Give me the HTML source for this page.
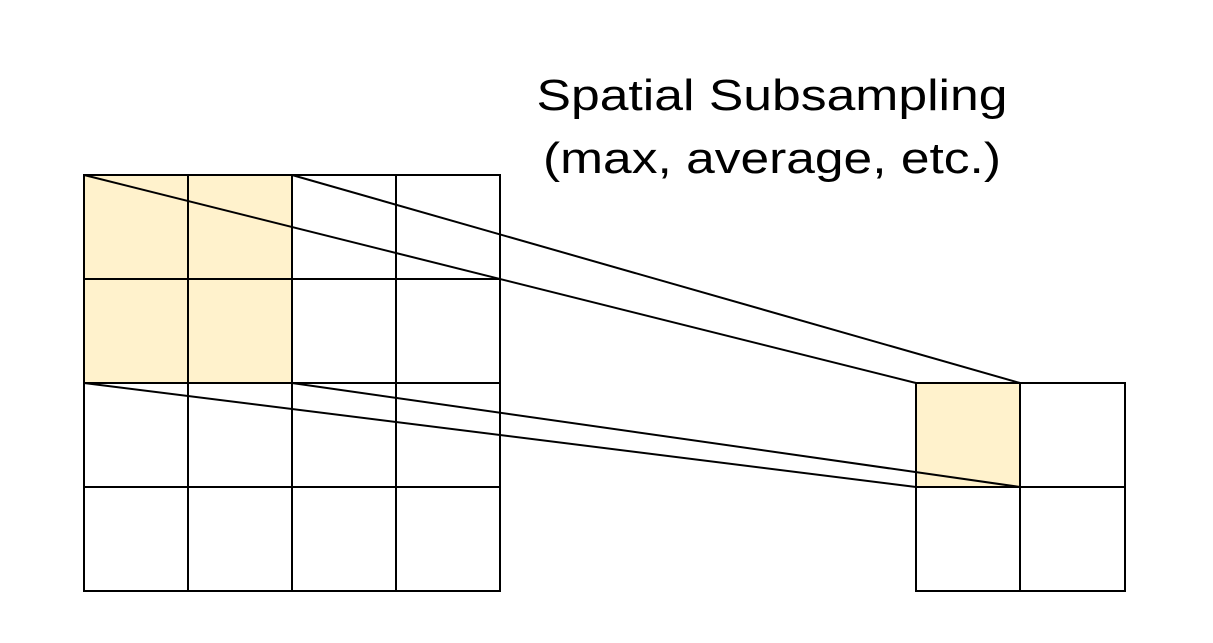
<!DOCTYPE html>
<html><head><style>html,body{margin:0;padding:0;background:#fff;}</style></head>
<body>
<svg width="1213" height="638" viewBox="0 0 1213 638" xmlns="http://www.w3.org/2000/svg">
<rect x="84" y="175" width="208" height="208" fill="#fff2cc"/>
<rect x="916" y="383" width="104" height="104" fill="#fff2cc"/>
<g stroke="#000" stroke-width="2" fill="none">
<rect x="84" y="175" width="416" height="416"/>
<line x1="188" y1="175" x2="188" y2="591"/>
<line x1="292" y1="175" x2="292" y2="591"/>
<line x1="396" y1="175" x2="396" y2="591"/>
<line x1="84" y1="279" x2="500" y2="279"/>
<line x1="84" y1="383" x2="500" y2="383"/>
<line x1="84" y1="487" x2="500" y2="487"/>
<rect x="916" y="383" width="209" height="208"/>
<line x1="1020" y1="383" x2="1020" y2="591"/>
<line x1="916" y1="487" x2="1125" y2="487"/>
<line x1="84" y1="175" x2="916" y2="383"/>
<line x1="292" y1="175" x2="1020" y2="383"/>
<line x1="84" y1="383" x2="916" y2="487"/>
<line x1="292" y1="383" x2="1020" y2="487"/>
</g>
<g font-family="Liberation Sans, Arial, sans-serif" font-size="44" fill="#000" text-anchor="middle">
<text x="772" y="110" textLength="471" lengthAdjust="spacingAndGlyphs">Spatial Subsampling</text>
<text x="772" y="173" textLength="458" lengthAdjust="spacingAndGlyphs">(max, average, etc.)</text>
</g>
</svg>
</body></html>
